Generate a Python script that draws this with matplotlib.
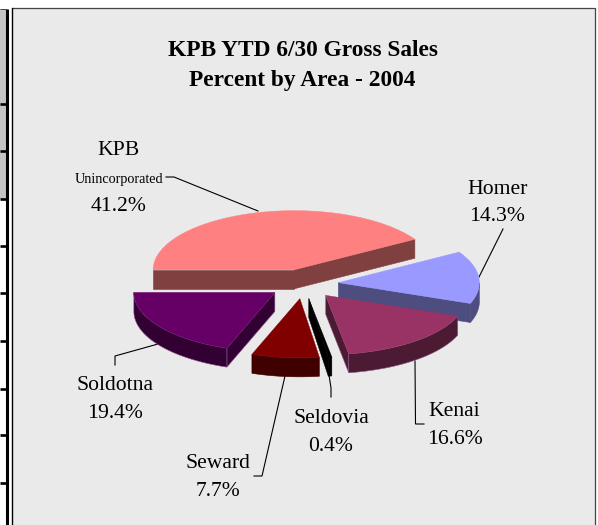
import numpy as np
import matplotlib
matplotlib.use("Agg")
import matplotlib.pyplot as plt
from matplotlib.patches import Wedge, Rectangle
from matplotlib.transforms import Affine2D

# ---- data ----
areas = ["KPB", "Homer", "Kenai", "Seldovia", "Seward", "Soldotna"]
shares = [41.2, 14.3, 16.6, 0.4, 7.7, 19.4]
share_labels = ["41.2%", "14.3%", "16.6%", "0.4%", "7.7%", "19.4%"]
top_colors = ["#FF8080", "#9999FF", "#993366", "#000000", "#800000", "#660066"]
side_colors = ["#804040", "#4D4D80", "#4D1A33", "#000000", "#400000", "#330033"]
title_lines = ["KPB YTD 6/30 Gross Sales", "Percent by Area - 2004"]

# ---- layout (pixels) ----
W, H = 598, 525
CX, CY, R, TILT, DEPTH, EXPLODE = 303.5, 284, 141, 0.42, 19, 35
START = 180.0
SERIF = ["Liberation Serif", "DejaVu Serif"]

fig = plt.figure(figsize=(W / 100, H / 100), dpi=100, facecolor="white")
ax = fig.add_axes([0, 0, 1, 1])
ax.set_xlim(0, W)
ax.set_ylim(H, 0)
ax.axis("off")

# page background: panel and left table fragment
ax.add_patch(Rectangle((11.5, 7.5), 583, 530, fc="#EAEAEA", ec="#444444", lw=0.9, zorder=1))
ax.plot([11.5, 11.5], [7.5, H], color="black", lw=0.9, zorder=2)
ax.add_patch(Rectangle((0, 9), 6, 190, fc="#C4C4C4", ec="none", zorder=1))
ax.plot([6.5, 6.5], [9, H], color="black", lw=2.2, zorder=2, solid_capstyle="butt")
ax.plot([0, 6.5], [9, 9], color="#444444", lw=0.7, zorder=2, solid_capstyle="butt")
for y in [103.5, 151, 199, 246, 293, 341, 389, 435, 483]:
    ax.plot([0, 6.5], [y, y], color="black", lw=1.9, zorder=2, solid_capstyle="butt")

# ---- pie ----
total = sum(shares)
angle = START
z = {"KPB": 3, "Homer": 4, "Soldotna": 5, "Kenai": 6, "Seward": 7, "Seldovia": 8}
for name, v, top, side in zip(areas, shares, top_colors, side_colors):
    t1 = angle
    t2 = angle - v / total * 360.0
    angle = t2
    mid = np.radians((t1 + t2) / 2)
    ax_c = CX + EXPLODE * np.cos(mid)
    ay_c = CY - EXPLODE * np.sin(mid) * TILT
    th = np.radians(np.linspace(t1, t2, 80))
    px = ax_c + R * np.cos(th)
    py = ay_c - R * np.sin(th) * TILT
    zo = z[name]
    edge = "#8a5a8a" if name in ("Soldotna", "Kenai") else side
    # radial side faces, only the ones that face the viewer
    if np.cos(np.radians(t1)) < 0:
        ax.fill([ax_c, px[0], px[0], ax_c], [ay_c, py[0], py[0] + DEPTH, ay_c + DEPTH],
                fc=side, ec=edge, lw=0.4, zorder=zo)
    if np.cos(np.radians(t2)) > 0:
        ax.fill([ax_c, px[-1], px[-1], ax_c], [ay_c, py[-1], py[-1] + DEPTH, ay_c + DEPTH],
                fc=side, ec=edge, lw=0.4, zorder=zo)
    # outer rim, front half only
    front = np.sin(th) <= 0.0
    if front.any():
        ax.fill(np.r_[px[front], px[front][::-1]],
                np.r_[py[front], py[front][::-1] + DEPTH],
                fc=side, ec=edge, lw=0.4, zorder=zo)
    tr = Affine2D().scale(1, -TILT).translate(ax_c, ay_c) + ax.transData
    ax.add_patch(Wedge((0, 0), R, min(t1, t2), max(t1, t2), fc=top, ec=top, lw=0.3,
                       transform=tr, zorder=zo + 0.5))

# ---- leader lines ----
leaders = [
    ([166, 174, 258], [177, 177, 211]),
    ([503, 479], [229, 277]),
    ([415, 415.5, 424], [361, 424, 424]),
    ([327, 331, 331], [362, 388, 397]),
    ([285, 262, 254], [376, 476, 476]),
    ([158, 115, 115], [344, 356, 365]),
]
for xs, ys in leaders:
    ax.plot(xs, ys, color="black", lw=0.8, zorder=2.5, solid_joinstyle="miter")

# ---- text ----
def txt(x, y, s, size=15.6, **kw):
    ax.text(x, y, s, fontsize=size, family=SERIF, ha="center", va="baseline",
            color="black", zorder=10, **kw)

txt(302.5, 56, title_lines[0], size=16.8, fontweight="bold")
txt(302.5, 86, title_lines[1], size=16.8, fontweight="bold")
txt(118.5, 155, areas[0])
txt(119, 183, "Unincorporated", size=10.2)
txt(118.5, 211, share_labels[0])
txt(497, 194, areas[1])
txt(497, 221, share_labels[1])
txt(454, 416, areas[2])
txt(455, 444, share_labels[2])
txt(331, 423, areas[3])
txt(331, 451, share_labels[3])
txt(218, 468, areas[4])
txt(218, 496, share_labels[4])
txt(115, 390, areas[5])
txt(115, 418, share_labels[5])

fig.savefig("out.png", dpi=100, facecolor="white")
